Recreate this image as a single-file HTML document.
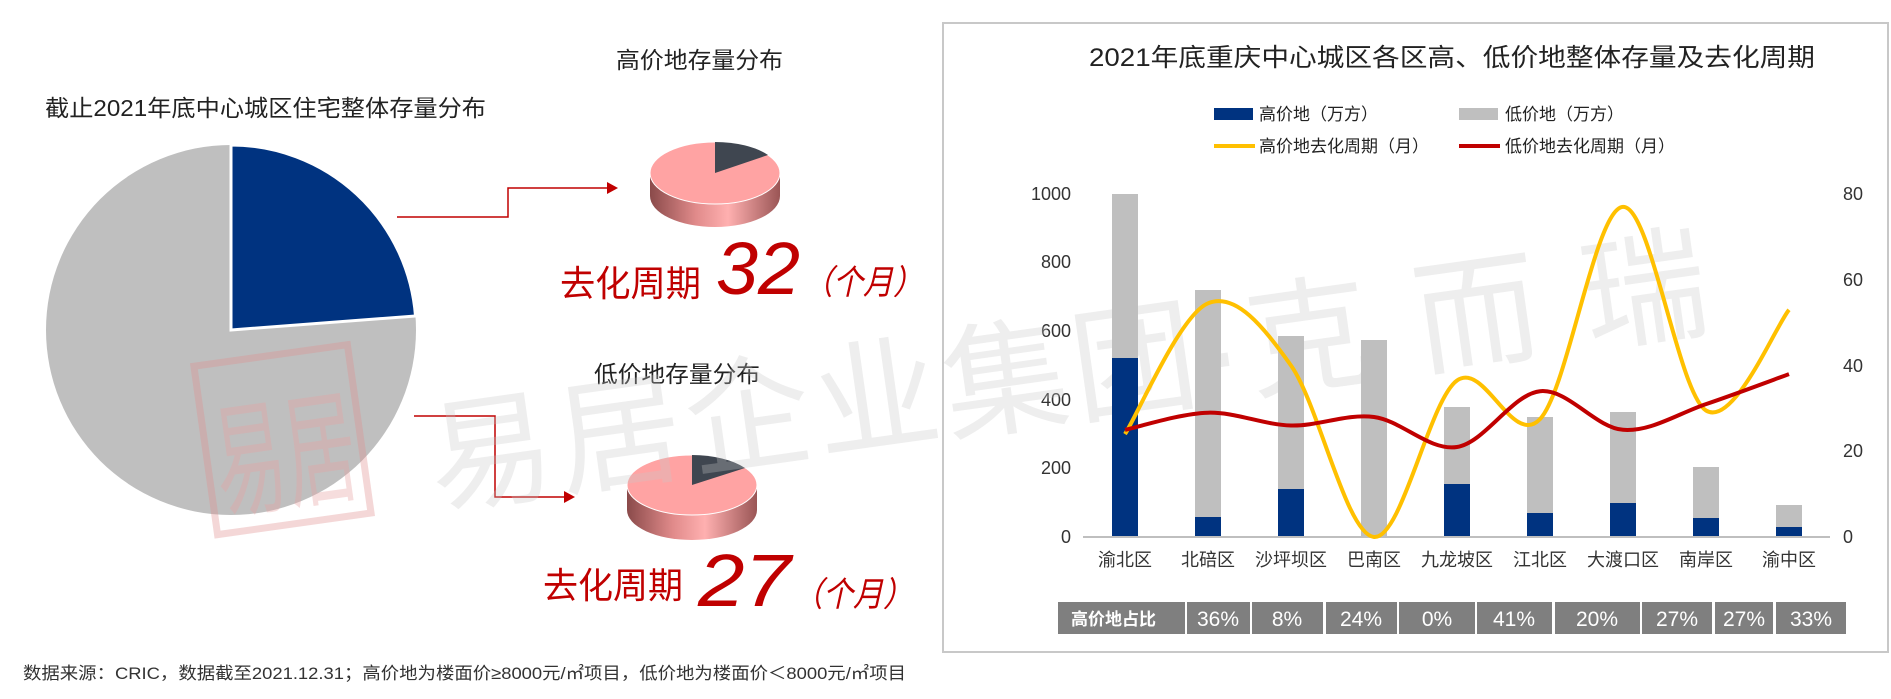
<!DOCTYPE html>
<html><head><meta charset="utf-8"><style>
html,body{margin:0;padding:0;background:#fff;}
svg{display:block;font-family:"Liberation Sans","Noto Sans CJK SC",sans-serif;}
</style></head><body>
<svg width="1891" height="699" viewBox="0 0 1891 699" xmlns="http://www.w3.org/2000/svg">
<defs>
<linearGradient id="side" x1="0" x2="1" y1="0" y2="0">
<stop offset="0" stop-color="#8a4a4a"/><stop offset="0.35" stop-color="#e08a8a"/><stop offset="0.6" stop-color="#ffb0b0"/><stop offset="1" stop-color="#9a5555"/>
</linearGradient>
</defs>
<circle cx="231" cy="330" r="185" fill="#bfbfbf"/>
<path d="M231,330 L231,145 A185,185 0 0 1 415.5,316 Z" fill="#003380" stroke="#fff" stroke-width="3"/>
<g opacity="0.35" transform="rotate(-8 280 440)">
<rect x="205" y="355" width="155" height="170" fill="none" stroke="#e09090" stroke-width="7"/>
<text x="212" y="500" font-size="125" fill="#e8a0a0" textLength="142" lengthAdjust="spacingAndGlyphs">易居</text>
</g>
<text x="45" y="116" font-size="23" fill="#222" textLength="441" lengthAdjust="spacingAndGlyphs">截止2021年底中心城区住宅整体存量分布</text>

<text x="616" y="68" font-size="23" fill="#222" textLength="167" lengthAdjust="spacingAndGlyphs">高价地存量分布</text>
<text x="594" y="382" font-size="23" fill="#222" textLength="166" lengthAdjust="spacingAndGlyphs">低价地存量分布</text>

<g stroke="#c00000" stroke-width="1.5" fill="none">
<polyline points="397,217 508,217 508,188 610,188"/>
<polyline points="414,416 495,416 495,497 567,497"/>
</g>
<polygon points="618,188 607,182 607,194" fill="#c00000"/>
<polygon points="575,497 564,491 564,503" fill="#c00000"/>

<g>
<path d="M650,173 L650,196 A65,31 0 0 0 780,196 L780,173 Z" fill="url(#side)"/>
<ellipse cx="715" cy="173" rx="65" ry="31" fill="#ffa3a3" stroke="#fff" stroke-width="1"/>
<path d="M715,173 L715,142 A65,31 0 0 1 768,155 Z" fill="#3f4650"/>
</g>
<g>
<path d="M627,485 L627,510 A65,30 0 0 0 757,510 L757,485 Z" fill="url(#side)"/>
<ellipse cx="692" cy="485" rx="65" ry="30" fill="#ffa3a3" stroke="#fff" stroke-width="1"/>
<path d="M692,485 L692,455 A65,30 0 0 1 745,468 Z" fill="#3f4650"/>
</g>

<g fill="#c00000">
<text x="560" y="296" font-size="36" textLength="141" lengthAdjust="spacingAndGlyphs">去化周期</text>
<text x="716" y="294" font-size="74" font-style="italic" textLength="84" lengthAdjust="spacingAndGlyphs">32</text>
<text x="803" y="294" font-size="34" font-style="italic" textLength="120" lengthAdjust="spacingAndGlyphs">（个月）</text>
<text x="543" y="598" font-size="36" textLength="140" lengthAdjust="spacingAndGlyphs">去化周期</text>
<text x="698" y="606" font-size="74" font-style="italic" textLength="93" lengthAdjust="spacingAndGlyphs">27</text>
<text x="793" y="606" font-size="34" font-style="italic" textLength="120" lengthAdjust="spacingAndGlyphs">（个月）</text>
</g>

<text x="23" y="679" font-size="17" fill="#333" textLength="883" lengthAdjust="spacingAndGlyphs">数据来源：CRIC，数据截至2021.12.31；高价地为楼面价≥8000元/㎡项目，低价地为楼面价＜8000元/㎡项目</text>

<rect x="943" y="23" width="945" height="629" fill="#fff" stroke="#c8c8c8" stroke-width="2"/>
<text x="1089" y="66" font-size="25" fill="#222" textLength="726" lengthAdjust="spacingAndGlyphs">2021年底重庆中心城区各区高、低价地整体存量及去化周期</text>

<rect x="1214" y="108" width="39" height="12" fill="#003380"/>
<text x="1259" y="120" font-size="17" fill="#222">高价地（万方）</text>
<rect x="1459" y="108" width="39" height="12" fill="#bfbfbf"/>
<text x="1505" y="120" font-size="17" fill="#222">低价地（万方）</text>
<line x1="1214" y1="146" x2="1255" y2="146" stroke="#ffc000" stroke-width="4"/>
<text x="1259" y="152" font-size="17" fill="#222">高价地去化周期（月）</text>
<line x1="1459" y1="146" x2="1500" y2="146" stroke="#c00000" stroke-width="4"/>
<text x="1505" y="152" font-size="17" fill="#222">低价地去化周期（月）</text>

<g font-size="18" fill="#333" text-anchor="end">
<text x="1071" y="200">1000</text><text x="1071" y="268">800</text><text x="1071" y="337">600</text>
<text x="1071" y="406">400</text><text x="1071" y="474">200</text><text x="1071" y="543">0</text>
</g>
<g font-size="18" fill="#333">
<text x="1843" y="200">80</text><text x="1843" y="286">60</text><text x="1843" y="372">40</text>
<text x="1843" y="457">20</text><text x="1843" y="543">0</text>
</g>

<g opacity="0.3" transform="rotate(-8 435 505)">
<text x="435" y="505" font-size="125" fill="#c8c8c8" textLength="1290" lengthAdjust="spacing">易居企业集团·克 而 瑞</text>
</g>

<g fill="#bfbfbf">
<rect x="1112" y="194" width="26" height="343"/>
<rect x="1195" y="290" width="26" height="247"/>
<rect x="1278" y="336" width="26" height="201"/>
<rect x="1361" y="340" width="26" height="197"/>
<rect x="1444" y="407" width="26" height="130"/>
<rect x="1527" y="417" width="26" height="120"/>
<rect x="1610" y="412" width="26" height="125"/>
<rect x="1693" y="467" width="26" height="70"/>
<rect x="1776" y="505" width="26" height="32"/>
</g>
<g fill="#003380">
<rect x="1112" y="358" width="26" height="179"/>
<rect x="1195" y="517" width="26" height="20"/>
<rect x="1278" y="489" width="26" height="48"/>
<rect x="1444" y="484" width="26" height="53"/>
<rect x="1527" y="513" width="26" height="24"/>
<rect x="1610" y="503" width="26" height="34"/>
<rect x="1693" y="518" width="26" height="19"/>
<rect x="1776" y="527" width="26" height="10"/>
</g>
<line x1="1083" y1="537" x2="1830" y2="537" stroke="#bfbfbf" stroke-width="2"/>

<path fill="none" stroke="#ffc000" stroke-width="4" d="M1125,434.1 C1138.8,412.3 1180.3,314.7 1208,303.3 C1235.7,291.9 1263.3,326.6 1291,365.5 C1318.7,404.5 1346.3,534.5 1374,537 C1401.7,539.5 1429.3,400.2 1457,380.5 C1484.7,360.9 1512.3,448 1540,419.1 C1567.7,390.2 1595.3,208.3 1623,206.9 C1650.7,205.5 1678.3,393.4 1706,410.5 C1733.7,427.6 1775.2,326.6 1789,309.8"/>
<path fill="none" stroke="#c00000" stroke-width="4" d="M1125,429.8 C1138.8,426.95 1180.3,413.4 1208,412.7 C1235.7,412 1263.3,424.8 1291,425.5 C1318.7,426.2 1346.3,413.4 1374,417 C1401.7,420.6 1429.3,451.3 1457,447 C1484.7,442.7 1512.3,394.1 1540,391.2 C1567.7,388.3 1595.3,427.7 1623,429.8 C1650.7,431.95 1678.3,413.4 1706,404.1 C1733.7,394.8 1775.2,379.1 1789,374.1"/>

<g font-size="18" fill="#333" text-anchor="middle">
<text x="1125" y="566">渝北区</text><text x="1208" y="566">北碚区</text><text x="1291" y="566">沙坪坝区</text>
<text x="1374" y="566">巴南区</text><text x="1457" y="566">九龙坡区</text><text x="1540" y="566">江北区</text>
<text x="1623" y="566">大渡口区</text><text x="1706" y="566">南岸区</text><text x="1789" y="566">渝中区</text>
</g>

<g fill="#7f7f7f">
<rect x="1058" y="602" width="127" height="32"/>
<rect x="1187" y="602" width="63" height="32"/>
<rect x="1252" y="602" width="71" height="32"/>
<rect x="1326" y="602" width="71" height="32"/>
<rect x="1399" y="602" width="76" height="32"/>
<rect x="1477" y="602" width="75" height="32"/>
<rect x="1555" y="602" width="85" height="32"/>
<rect x="1642" y="602" width="70" height="32"/>
<rect x="1715" y="602" width="58" height="32"/>
<rect x="1776" y="602" width="70" height="32"/>
</g>
<text x="1071" y="625" font-size="17" font-weight="bold" fill="#fff">高价地占比</text>
<g font-size="21" fill="#fff" text-anchor="middle">
<text x="1218" y="626">36%</text><text x="1287" y="626">8%</text><text x="1361" y="626">24%</text>
<text x="1437" y="626">0%</text><text x="1514" y="626">41%</text><text x="1597" y="626">20%</text>
<text x="1677" y="626">27%</text><text x="1744" y="626">27%</text><text x="1811" y="626">33%</text>
</g>
</svg>
</body></html>
